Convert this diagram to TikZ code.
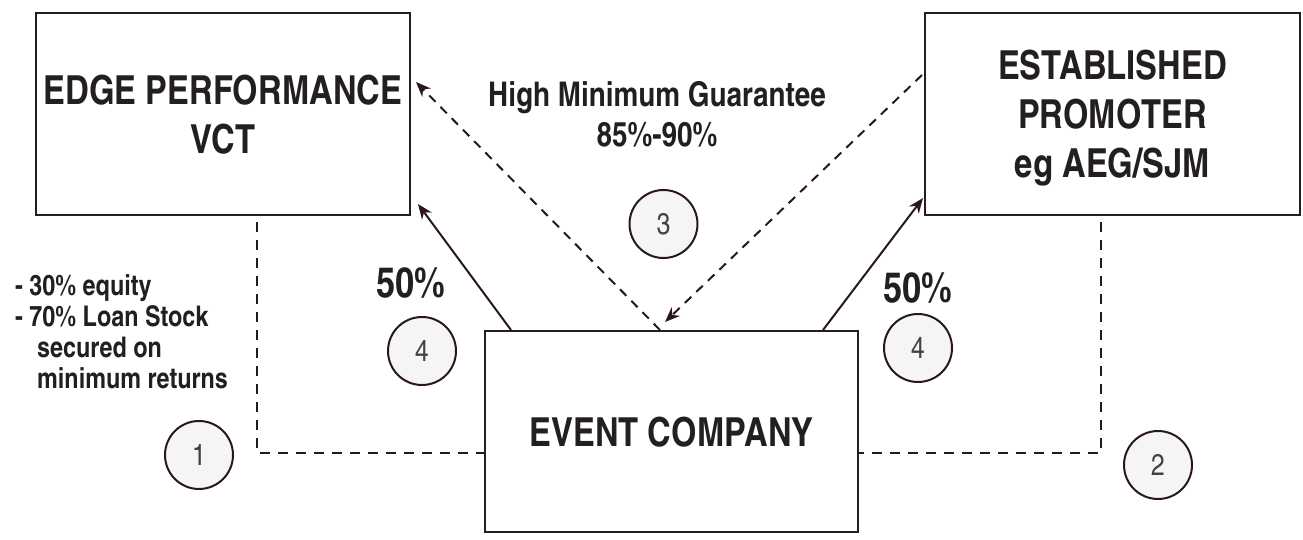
\documentclass[tikz,border=0pt]{standalone}
\usepackage{fontspec}
\usetikzlibrary{arrows.meta}

\newfontfamily\cnbold{texgyreheroscn-bold.otf}
\newfontfamily\cnthin{texgyreheroscn-regular.otf}
\definecolor{ink}{HTML}{231F20}
\definecolor{wire}{HTML}{2A171D}
\definecolor{disc}{HTML}{F5F5F5}

\begin{document}
\begin{tikzpicture}[x=1pt,y=-1pt,
		party/.style={draw=ink,line width=2pt,minimum width=374pt,minimum height=202pt,inner sep=0pt,
			align=center,text depth=0pt,text=ink,font=\cnbold\fontsize{40}{49}\selectfont},
		num/.style={circle,draw=wire,line width=2pt,fill=disc,minimum size=68pt,inner sep=0pt,
			text=ink!85,font=\cnthin\fontsize{30}{30}\selectfont},
		pct/.style={inner sep=0pt,text=ink,font=\cnbold\fontsize{42}{42}\selectfont},
		note/.style={inner sep=0pt,text=ink,font=\cnbold\fontsize{28.5}{31}\selectfont},
		share/.style={draw=wire,line width=2pt,-{Stealth[length=15pt,width=12pt]}},
		guar/.style={share,dash pattern=on 9pt off 7pt},
		tie/.style={draw=wire,line width=2pt,dash pattern=on 10pt off 8pt}]
			\useasboundingbox (0,0) rectangle (1303,540);
			\node[party] (edge) at (223,114) {EDGE PERFORMANCE\\VCT};
			\node[party,minimum width=375pt] (promoter) at (1112.5,114) {ESTABLISHED\\PROMOTER\\eg AEG/SJM};
			\node[party,minimum width=373pt,minimum height=201pt] (event) at (671.5,431.5) {EVENT COMPANY};
			\node[note,font=\cnbold\fontsize{34}{40}\selectfont,align=center,anchor=north] (guarantee) at (657,81) {High Minimum Guarantee\\85\%-90\%};
			\node[note,align=left,anchor=north west] (terms) at (15,274) {- 30\% equity\\- 70\% Loan Stock\\\hspace*{22pt}secured on\\\hspace*{22pt}minimum returns};
			\node[pct] (pctl) at (411,283) {50\%};
			\node[pct] (pctr) at (918,288) {50\%};
			\node[num] (n1) at (199,455) {1};
			\node[num] (n2) at (1158,465) {2};
			\node[num] (n3) at (663.5,224) {3};
			\node[num] (n4l) at (422,351) {4};
			\node[num] (n4r) at (918,348) {4};
			\draw[share] ([xshift=27pt]event.north west) -- ([shift={(7pt,12pt)}]edge.south east);
			\draw[share] ([xshift=-36pt]event.north east) -- ([shift={(-1pt,18pt)}]promoter.south west);
			\draw[guar] ([xshift=-11.5pt]event.north) -- ([shift={(5pt,32pt)}]edge.east);
			\draw[guar] ([shift={(-2pt,39pt)}]promoter.west) -- ([shift={(-6.5pt,8pt)}]event.north);
			\draw[tie] ([shift={(34pt,-6pt)}]edge.south) |- ([yshift=-21.5pt]event.west);
			\draw[tie] ([shift={(-11.5pt,-6pt)}]promoter.south) |- ([yshift=-21.5pt]event.east);
		\end{tikzpicture}
\end{document}
